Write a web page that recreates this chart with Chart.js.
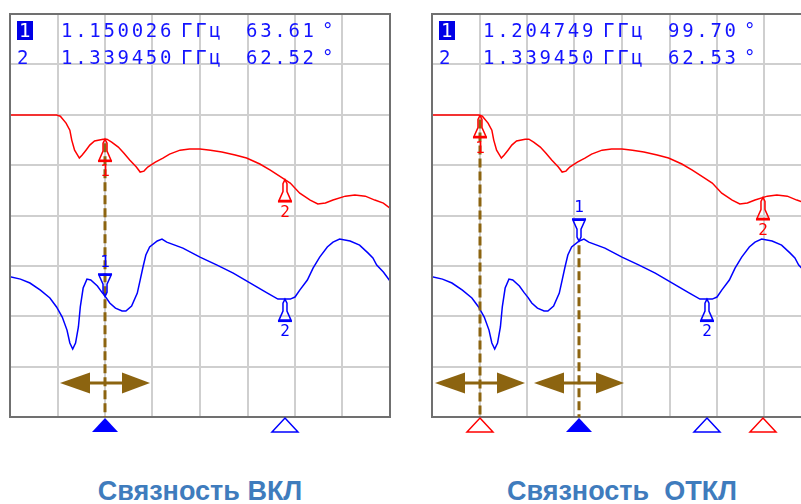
<!DOCTYPE html>
<html>
<head>
<meta charset="utf-8">
<script src="https://cdn.jsdelivr.net/npm/chart.js@4"></script>
<style>
  html, body { margin:0; padding:0; background:#fff; overflow:hidden; }
  #wrap { position:relative; width:801px; height:504px; overflow:hidden; }
  canvas { position:absolute; top:0; }
  .ro { position:absolute; font-family:"DejaVu Sans Mono", monospace; font-size:19px; line-height:19px;
        color:#1414ff; letter-spacing:2.7px; white-space:pre; }
  .act { background:#0000e6; color:#fff; padding:0 0 0 2px; }
  .cap { position:absolute; top:478px; width:380px; text-align:center; font-family:"Liberation Sans", Arial, sans-serif;
         font-weight:bold; font-size:27px; line-height:27px; color:#3f7cbd; white-space:pre; }
</style>
</head>
<body>
<div id="wrap">
  <canvas id="chartOn" width="400" height="440" style="left:0px"></canvas>
  <canvas id="chartOff" width="400" height="440" style="left:422px"></canvas>
</div>
<script>
// traces, frequency in GHz, phase in degrees (same traces in both panels)
var redFreq   = [1.050, 1.099, 1.103, 1.109, 1.113, 1.115, 1.118, 1.123, 1.126, 1.130,
                 1.134, 1.139, 1.148, 1.152, 1.157, 1.164, 1.170, 1.176, 1.183, 1.187,
                 1.191, 1.195, 1.203, 1.211, 1.218, 1.229, 1.239, 1.250, 1.261, 1.273,
                 1.287, 1.299, 1.313, 1.324, 1.337, 1.345, 1.355, 1.366, 1.374, 1.382,
                 1.390, 1.403, 1.413, 1.424, 1.434, 1.443, 1.450];
var redPhase  = [179.8, 179.8, 179.1, 174.7, 170.2, 163.9, 157.5, 152.5, 154.4, 157.5,
                 160.7, 163.3, 164.5, 164.5, 162.6, 159.5, 155.6, 151.2, 146.8, 143.6,
                 144.2, 146.8, 149.9, 152.5, 155.0, 157.5, 158.2, 158.2, 157.5, 156.3,
                 154.4, 152.5, 148.7, 144.8, 139.8, 136.6, 130.2, 125.8, 123.3, 123.9,
                 125.8, 128.3, 129.0, 128.3, 125.8, 123.9, 120.7];
var blueFreq  = [1.050, 1.061, 1.071, 1.082, 1.092, 1.099, 1.105, 1.110, 1.113, 1.116,
                 1.119, 1.122, 1.124, 1.127, 1.131, 1.135, 1.142, 1.147, 1.151, 1.155,
                 1.161, 1.168, 1.172, 1.178, 1.184, 1.187, 1.190, 1.193, 1.197, 1.205,
                 1.210, 1.215, 1.232, 1.250, 1.268, 1.285, 1.303, 1.321, 1.332, 1.345,
                 1.350, 1.355, 1.363, 1.369, 1.376, 1.384, 1.390, 1.397, 1.408, 1.418,
                 1.427, 1.432, 1.436, 1.443, 1.450];
var bluePhase = [77.1, 75.6, 73.1, 68.6, 63.6, 57.9, 51.5, 43.2, 35.0, 31.2,
                 35.0, 45.2, 57.9, 69.9, 75.6, 75.0, 71.2, 67.0, 64.0, 60.4,
                 57.2, 55.3, 55.3, 58.5, 66.7, 75.0, 83.3, 90.9, 96.0, 99.8,
                 101.0, 99.1, 95.3, 89.6, 84.5, 79.4, 73.1, 66.7, 62.9, 62.9,
                 64.2, 68.6, 75.0, 82.6, 89.6, 96.0, 99.1, 101.0, 99.8, 97.2,
                 92.1, 89.0, 84.5, 80.1, 74.4];

// markers: coupling on (both traces share the markers) / coupling off
var onMarkerFreq   = [1.150026, 1.339450];
var onMarkerPhase  = [63.61, 62.52];
var offBlueFreq    = [1.204749, 1.339450];
var offBluePhase   = [99.70, 62.53];
var offRedFreq     = [1.1005, 1.3984];

var freqRange  = [1.05, 1.45];    // 0.05 GHz / div
var phaseRange = [-12, 244];      // 32 deg / div
var captions   = ["Связность ВКЛ", "Связность  ОТКЛ"];

var brown = "#8c6410";

function zip(xs, ys) {
    var out = [];
    for (var i = 0; i < xs.length; i++) { out.push({x: xs[i], y: ys[i]}); }
    return out;
}

function phaseAt(fs, ps, f) {
    for (var i = 1; i < fs.length; i++) {
        if (f <= fs[i]) {
            var t = (f - fs[i-1]) / (fs[i] - fs[i-1]);
            return ps[i-1] + t * (ps[i] - ps[i-1]);
        }
    }
    return ps[ps.length-1];
}

function drawGlyph(ctx, x, y, dir, color, num) {
    // dir 1: below the trace, tip up; dir -1: above, tip down
    ctx.save();
    ctx.strokeStyle = color;
    ctx.fillStyle   = color;
    ctx.lineWidth   = 1.5;
    ctx.beginPath();
    ctx.moveTo(x, y);
    ctx.lineTo(x - 2, y + dir*4);
    ctx.lineTo(x - 2, y + dir*12);
    ctx.lineTo(x - 6, y + dir*21);
    ctx.lineTo(x + 6, y + dir*21);
    ctx.lineTo(x + 2, y + dir*12);
    ctx.lineTo(x + 2, y + dir*4);
    ctx.closePath();
    ctx.stroke();
    ctx.fillRect(x - 7, y + dir*22 - 1, 14, 2);
    ctx.font = '16px "DejaVu Sans Mono"';
    ctx.textAlign = "center";
    ctx.textBaseline = dir > 0 ? "top" : "bottom";
    ctx.fillText(num, x, y + dir*25);
    ctx.restore();
}

function drawArrow(ctx, x, y) {
    ctx.save();
    ctx.fillStyle = brown;
    ctx.fillRect(x - 16, y - 1.5, 33, 3);
    ctx.beginPath();
    ctx.moveTo(x - 45, y); ctx.lineTo(x - 15, y - 10.5); ctx.lineTo(x - 15, y + 10.5);
    ctx.closePath(); ctx.fill();
    ctx.beginPath();
    ctx.moveTo(x + 45, y); ctx.lineTo(x + 17, y - 10.5); ctx.lineTo(x + 17, y + 10.5);
    ctx.closePath(); ctx.fill();
    ctx.restore();
}

function drawStimulus(ctx, x, y, color, filled) {
    ctx.save();
    ctx.beginPath();
    ctx.moveTo(x, y + 1); ctx.lineTo(x + 13, y + 15); ctx.lineTo(x - 13, y + 15);
    ctx.closePath();
    if (filled) { ctx.fillStyle = color; ctx.fill(); }
    else { ctx.strokeStyle = color; ctx.lineWidth = 1.5; ctx.fillStyle = "#fff"; ctx.fill(); ctx.stroke(); }
    ctx.restore();
}

function markerPlugin(panel) {
    return {
        id: "markers",
        afterDatasetsDraw: function(chart) {
            var ctx = chart.ctx, area = chart.chartArea;
            var xs = chart.scales.x, ys = chart.scales.y;
            var traces = [
                {f: redFreq,  p: redPhase,  m: panel.red,  color: "#ff0000", active: false},
                {f: blueFreq, p: bluePhase, m: panel.blue, color: "#0000ff", active: true}
            ];

            // frame
            ctx.save();
            ctx.strokeStyle = "#707070";
            ctx.lineWidth = 2;
            ctx.strokeRect(area.left, area.top, area.right - area.left, area.bottom - area.top);
            ctx.restore();

            // active marker: dashed line and arrow
            var lines = {};
            traces.forEach(function(t) {
                var x = Math.round(xs.getPixelForValue(t.m[0]));
                var y = ys.getPixelForValue(phaseAt(t.f, t.p, t.m[0]));
                if (lines[x] === undefined || y < lines[x]) { lines[x] = y; }
            });
            Object.keys(lines).forEach(function(k) {
                var x = Number(k);
                drawArrow(ctx, x, area.bottom - 34);
                ctx.save();
                ctx.strokeStyle = brown;
                ctx.lineWidth = 3;
                ctx.setLineDash([9, 4]);
                ctx.beginPath();
                ctx.moveTo(x, lines[k] + 4);
                ctx.lineTo(x, area.bottom);
                ctx.stroke();
                ctx.restore();
            });

            // marker symbols on the traces
            traces.forEach(function(t) {
                t.m.forEach(function(f, i) {
                    var x = xs.getPixelForValue(f);
                    var y = ys.getPixelForValue(phaseAt(t.f, t.p, f));
                    var dir = (t.active && i == 0) ? -1 : 1;
                    drawGlyph(ctx, x, y, dir, t.color, String(i + 1));
                });
            });

            // stimulus markers below the grid
            traces.forEach(function(t) {
                if (panel.coupled && !t.active) { return; }
                t.m.forEach(function(f, i) {
                    drawStimulus(ctx, xs.getPixelForValue(f), area.bottom, t.color, t.active && i == 0);
                });
            });
        }
    };
}

function makeChart(id, panel) {
    var gridOpts = { color: "#cfcfcf", lineWidth: 2, drawTicks: false };
    return new Chart(document.getElementById(id), {
        type: "line",
        data: {
            datasets: [
                { data: zip(redFreq, redPhase),   borderColor: "#ff0000", borderWidth: 1.5, pointRadius: 0, tension: 0 },
                { data: zip(blueFreq, bluePhase), borderColor: "#0000ff", borderWidth: 1.5, pointRadius: 0, tension: 0 }
            ]
        },
        options: {
            responsive: false,
            animation: false,
            devicePixelRatio: 1,
            events: [],
            layout: { padding: { left: 10, top: 14, right: 10, bottom: 23 } },
            plugins: { legend: { display: false }, tooltip: { enabled: false } },
            scales: {
                x: { type: "linear", min: freqRange[0], max: freqRange[1],
                     ticks: { display: false, stepSize: 0.05 }, grid: gridOpts, border: { display: false } },
                y: { type: "linear", min: phaseRange[0], max: phaseRange[1],
                     ticks: { display: false, stepSize: 32 }, grid: gridOpts, border: { display: false } }
            }
        },
        plugins: [markerPlugin(panel)]
    });
}

function addText(left, top, text, cls) {
    var d = document.createElement("div");
    d.className = cls;
    d.style.left = left + "px";
    d.style.top  = top + "px";
    d.textContent = text;
    document.getElementById("wrap").appendChild(d);
}

function addReadout(panelLeft, freqs, phases) {
    for (var i = 0; i < freqs.length; i++) {
        var top = 21 + i * 27;
        addText(panelLeft + 7,   top, String(i + 1), i == 0 ? "ro act" : "ro");
        addText(panelLeft + 51,  top, freqs[i].toFixed(6), "ro");
        addText(panelLeft + 171, top, "ГГц", "ro");
        addText(panelLeft + 236, top, phases[i].toFixed(2), "ro");
        addText(panelLeft + 312, top, "°", "ro");
    }
}

makeChart("chartOn",  { red: onMarkerFreq, blue: onMarkerFreq, coupled: true });
makeChart("chartOff", { red: offRedFreq,   blue: offBlueFreq,  coupled: false });

addReadout(10,  onMarkerFreq, onMarkerPhase);
addReadout(432, offBlueFreq,  offBluePhase);

var c1 = document.createElement("div"); c1.className = "cap"; c1.style.left = "10px";  c1.textContent = captions[0];
var c2 = document.createElement("div"); c2.className = "cap"; c2.style.left = "432px"; c2.textContent = captions[1];
document.getElementById("wrap").appendChild(c1);
document.getElementById("wrap").appendChild(c2);
</script>
</body>
</html>
